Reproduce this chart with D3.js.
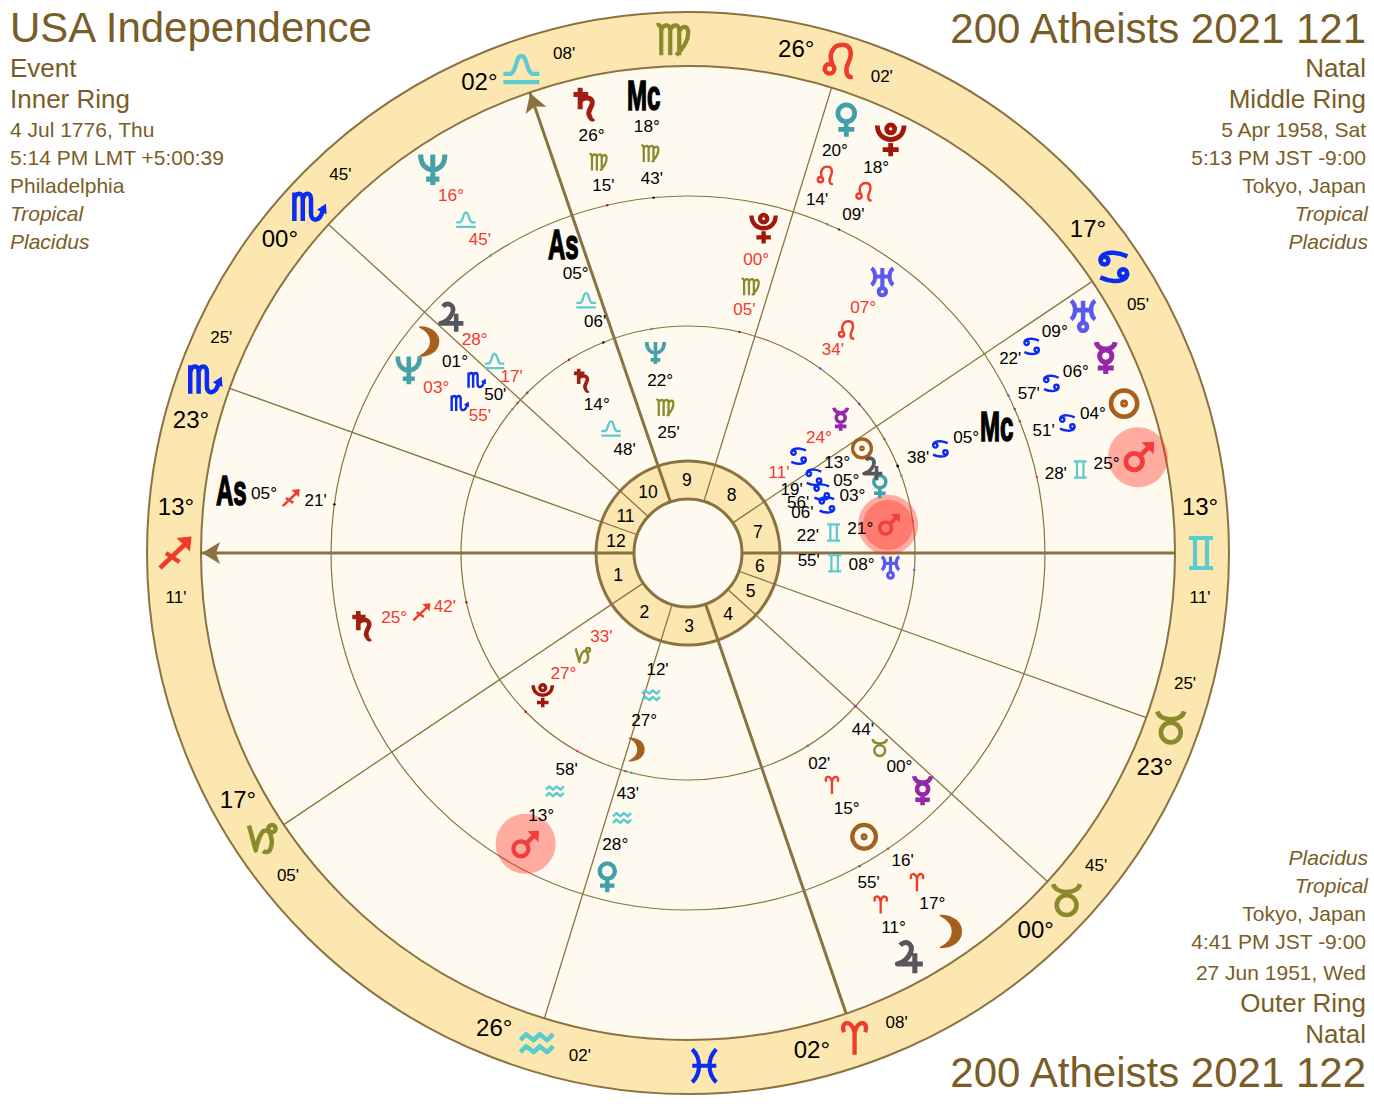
<!DOCTYPE html>
<html>
<head>
<meta charset="utf-8">
<title>USA Independence / 200 Atheists</title>
<script src="https://cdn.jsdelivr.net/npm/d3@7"></script>
<style>
  html, body { margin: 0; padding: 0; background: #fff; }
  svg { display: block; font-family: "Liberation Sans", Arial, sans-serif; }
</style>
</head>
<body>
<svg id="chart" width="1374" height="1108"></svg>
<script>
// zodiac, in order from 0 Aries
const signs = ["aries", "taurus", "gemini", "cancer", "leo", "virgo", "libra", "scorpio", "sagittarius", "capricorn", "aquarius", "pisces"];
const signColors = ["#f03a2a", "#8a8a2c", "#5ccbd0", "#0a2cf0", "#f03a2a", "#8a8a2c", "#5ccbd0", "#0a2cf0", "#f03a2a", "#8a8a2c", "#5ccbd0", "#0a2cf0"];

// house cusps 1..12 of the inner chart
const cuspSigns = [8, 9, 10, 0, 1, 1, 2, 3, 4, 6, 7, 7];
const cuspDegrees = [13, 17, 26, 2, 0, 23, 13, 17, 26, 2, 0, 23];
const cuspMinutes = [11, 5, 2, 8, 45, 25, 11, 5, 2, 8, 45, 25];
const interceptedSigns = [5, 11];

const bodies = ["sun", "moon", "mercury", "venus", "mars", "jupiter", "saturn", "uranus", "neptune", "pluto", "as", "mc"];
const bodyColors = ["#a5601f", "#a5601f", "#9527a8", "#3f9faa", "#f23d3d", "#56565c", "#a11f12", "#5a5af0", "#45a0a8", "#a0180c", "#000", "#000"];

// Inner ring: USA Independence
const innerSigns = [3, 10, 3, 3, 2, 3, 6, 2, 5, 9];
const innerDegrees = [13, 27, 24, 3, 21, 5, 14, 8, 22, 27];
const innerMinutes = [19, 12, 11, 6, 22, 56, 48, 55, 25, 33];
const innerRetro = [0, 0, 1, 0, 0, 0, 0, 0, 0, 1];
const innerLabelLon = [104.2, 328.6, 114.4, 92.3, 81.2, 97.7, 194.8, 69.2, 172.4, 297.5];

// Middle ring: 200 Atheists 2021 121
const middleSigns = [0, 7, 1, 10, 10, 6, 8, 4, 7, 5, 6, 3];
const middleDegrees = [15, 1, 0, 28, 13, 28, 25, 7, 3, 0, 5, 5];
const middleMinutes = [2, 50, 44, 43, 58, 17, 42, 34, 55, 5, 6, 38];
const middleRetro = [0, 0, 0, 0, 0, 1, 1, 1, 1, 1, 0, 0];
const middleLabelLon = [15, 213.9, 27.8, 329.2, 314, 208.3, 265.7, 127.6, 219.9, 150.1, 185.1, 95.6];

// Outer ring: 200 Atheists 2021 122
const outerSigns = [3, 0, 3, 4, 2, 0, 5, 3, 6, 4, 8, 5];
const outerDegrees = [4, 17, 6, 20, 25, 11, 26, 9, 16, 18, 5, 18];
const outerMinutes = [51, 16, 57, 14, 28, 55, 15, 22, 45, 9, 21, 43];
const outerRetro = [0, 0, 0, 0, 0, 0, 0, 0, 1, 0, 0, 0];
const outerLabelLon = [92.1, 18, 98.2, 143.1, 85.2, 11.9, 176.2, 104.2, 196.8, 137.1, 245.3, 168.7];

// header blocks
const topLeftLines = ["USA Independence", "Event", "Inner Ring", "4 Jul 1776, Thu", "5:14 PM LMT +5:00:39", "Philadelphia", "Tropical", "Placidus"];
const topRightLines = ["200 Atheists 2021 121", "Natal", "Middle Ring", "5 Apr 1958, Sat", "5:13 PM JST -9:00", "Tokyo, Japan", "Tropical", "Placidus"];
const bottomRightLines = ["Placidus", "Tropical", "Tokyo, Japan", "4:41 PM JST -9:00", "27 Jun 1951, Wed", "Outer Ring", "Natal", "200 Atheists 2021 122"];

// glyph outlines in a 24 box round 0,0
const ring = (x, y, r) => `M${x - r},${y}a${r},${r} 0 1,0 ${2 * r},0a${r},${r} 0 1,0 ${-2 * r},0`;
const glyphs = {
    sun: { d: ring(0, 0, 9.8) + ring(0, 0, 1.2), w: 3.5 },
    moon: { d: "M-8,-12C12.7,-12 12.7,12 -8,12C4,6 4,-6 -8,-12Z", w: 1.2, fill: true },
    mercury: { d: "M-7,-12C-6,-5 6,-5 7,-12" + ring(0, -1.5, 4.6) + "M0,3L0,12M-6,7.5L6,7.5", w: 3.8 },
    venus: { d: ring(0, -5, 6.3) + "M0,1.5L0,12.5M-6,7L6,7", w: 3.6 },
    mars: { d: ring(-3.5, 3.5, 6.2) + "M1,-1L8,-8", w: 3.6, head: "M2,-11L11.5,-11.5L11,-2Z" },
    jupiter: { d: "M-7,-9C-3,-13.5 3,-10 1,-4C-1,1 -5,4 -9,5L10,5M4,-3L4,12", w: 3.8 },
    saturn: { d: "M-3,-12L-3,4M-8,-7L3,-7M-3,-2C0,-6 7,-5 6,0C5,4 2,6 4,9C5,11 6,12 7,11", w: 3.8 },
    uranus: { d: "M-9,-11C-5,-8 -5,0 -9,3M9,-11C5,-8 5,0 9,3M-6,-4L6,-4M0,-11L0,5" + ring(0, 8.5, 3), w: 3.4 },
    neptune: { d: "M-9,-10C-9,4 9,4 9,-10M0,-11L0,12M-5,7.5L5,7.5M-9,-11L-9,-8M9,-11L9,-8", w: 3.8 },
    pluto: { d: "M-10,-10C-10,4 10,4 10,-10M0,3L0,13M-6,8L6,8" + ring(0, -7.5, 3), w: 3.6 },
    aries: { d: "M-7,-4C-10,-11 -2,-13 0,-4L0,11M0,-4C2,-13 10,-11 7,-4", w: 2.9 },
    taurus: { d: ring(0, 4, 6.6) + "M-9,-10C-7,-3 7,-3 9,-10", w: 3.1 },
    gemini: { d: "M-8,-10L8,-10M-8,10L8,10M-4,-10L-4,10M4,-10L4,10", w: 2.8 },
    cancer: { d: ring(-6.2, -4.2, 2.6) + "M-9,-4.2C-9,-9 -3,-9.6 0,-9.4C3,-9.2 6,-8.4 9,-7" + ring(6.2, 4.2, 2.6) + "M9,4.2C9,9 3,9.6 0,9.4C-3,9.2 -6,8.4 -9,7", w: 3 },
    leo: { d: ring(-6.5, 4, 3.2) + "M-4.5,1C-8,-7 -3,-12 2,-12C8,-12 9,-6 6,0C4,4 4,10 9,9.5", w: 3 },
    virgo: { d: "M-10,-10C-8,-11 -7,-9 -7,-6L-7,10M-7,-7C-5,-11 -1,-11 -1,-6L-1,10M-1,-7C1,-11 5,-11 5,-6L5,10M5,-6C8,-11 11,-9 11,-5C11,0 7,6 3,10", w: 2.8 },
    libra: { d: "M-12,4L-7,4C-3,2 -4,-8 0,-8C4,-8 3,2 7,4L12,4M-12,9.5L12,9.5", w: 2.8 },
    scorpio: { d: "M-10,-9.5L-10,9.5M-10,-5C-9,-10 -4.4,-10 -4.4,-5L-4.4,9.5M-4.4,-5C-3.4,-10 1.1,-10 1.1,-5L1.1,4.5C1.1,10 7,10.5 9,2", w: 3, head: "M5,2L11,-2L11.5,5Z" },
    sagittarius: { d: "M-10,10L9,-8M-6,0L3,6", w: 3, head: "M1,-10L11,-11L10,-1Z" },
    capricorn: { d: "M-8.8,-9L-4.3,7.5C-3.5,2 -1,-4 1,-5.5C2.5,-6 3.5,-6 4.5,-5C6.5,-2 7,3 5.5,6.5C4.5,9 2,9 0.5,8" + ring(6.5, -7, 2.4), w: 3 },
    aquarius: { d: "M-11,-2L-7,-6L-2,-2L2,-6L7,-2L11,-6M-11,6L-7,2L-2,6L2,2L7,6L11,2", w: 3 },
    pisces: { d: "M-8,-11C-2,-5 -2,5 -8,11M8,-11C2,-5 2,5 8,11M-8,0L8,0", w: 2.8 }
};

const cx = 688, cy = 553;
const rHole = 54, rHouse = 92, rInner = 227, rMiddle = 357, rZodiac = 487, rOuter = 541;
const lineColor = "#8a7340", ringFill = "#fde7b0", paperFill = "#fffaef", headColor = "#7a5d26", redText = "#f5372d";

const lonOf = (sign, deg, min) => sign * 30 + deg + min / 60;
const cusps = cuspSigns.map((s, i) => lonOf(s, cuspDegrees[i], cuspMinutes[i]));
const asc = cusps[0];

// longitude runs counter clockwise with the ascendant on the left
const phi = d3.scaleLinear().domain([asc, asc + 360]).range([180, 540]);
const angleOf = lon => phi(lon < asc ? lon + 360 : lon) * Math.PI / 180;
const polar = (lon, r) => {
    const a = angleOf(lon);
    return [cx + r * Math.cos(a), cy - r * Math.sin(a)];
};

const svg = d3.select("#chart");

function putGlyph(parent, name, lon, r, size, color) {
    const g = glyphs[name], [x, y] = polar(lon, r);
    const k = size / 24;
    const node = parent.append("g").attr("transform", `translate(${x},${y}) scale(${k})`);
    node.append("path")
        .attr("d", g.d)
        .attr("fill", g.fill ? color : "none")
        .attr("stroke", color)
        .attr("stroke-width", g.w)
        .attr("stroke-linejoin", "round");
    if (g.head) node.append("path").attr("d", g.head).attr("fill", color);
}

function putText(parent, txt, lon, r, size, color, dy) {
    const [x, y] = polar(lon, r);
    parent.append("text")
        .attr("x", x).attr("y", y).attr("dy", dy || "0.28em")
        .attr("text-anchor", "middle")
        .attr("font-size", size)
        .attr("fill", color)
        .text(txt);
}

// heavy squeezed As / Mc labels
function putAngleLabel(parent, txt, lon, r) {
    const [x, y] = polar(lon, r);
    parent.append("text")
        .attr("transform", `translate(${x},${y}) scale(0.56,1)`)
        .attr("dy", "0.36em")
        .attr("text-anchor", "middle")
        .attr("font-size", 43)
        .attr("font-weight", "bold")
        .attr("fill", "#000").attr("stroke", "#000").attr("stroke-width", 1.5)
        .text(txt);
}

// discs and rings
const discs = [
    { r: rOuter, fill: ringFill, w: 2 },
    { r: rZodiac, fill: paperFill, w: 2 },
    { r: rMiddle, fill: "none", w: 1.2 },
    { r: rInner, fill: "none", w: 1.2 },
    { r: rHouse, fill: ringFill, w: 3 },
    { r: rHole, fill: paperFill, w: 3 }
];
svg.append("g").selectAll("circle").data(discs).enter().append("circle")
    .attr("cx", cx).attr("cy", cy)
    .attr("r", d => d.r)
    .attr("fill", d => d.fill)
    .attr("stroke", lineColor)
    .attr("stroke-width", d => d.w);

// cusps, the four angles are heavier
const cuspLayer = svg.append("g");
cusps.forEach((lon, i) => {
    const [x1, y1] = polar(lon, rHole), [x2, y2] = polar(lon, rZodiac);
    cuspLayer.append("line")
        .attr("x1", x1).attr("y1", y1).attr("x2", x2).attr("y2", y2)
        .attr("stroke", lineColor)
        .attr("stroke-width", i % 3 === 0 ? 3 : 1.3);
});
[0, 9].forEach(i => {
    const [x, y] = polar(cusps[i], rZodiac - 1);
    const deg = -angleOf(cusps[i]) * 180 / Math.PI;
    cuspLayer.append("path")
        .attr("d", "M0,0L-18,-11L-14,0L-18,11Z")
        .attr("transform", `translate(${x},${y}) rotate(${deg})`)
        .attr("fill", lineColor);
});

// house numbers
const numbers = svg.append("g");
cusps.forEach((lon, i) => {
    let next = cusps[(i + 1) % 12];
    if (next < lon) next += 360;
    putText(numbers, String(i + 1), (lon + next) / 2 % 360, 73, 17.5, "#000", "0.36em");
});

// zodiac band: sign with degrees on the upper side and minutes on the lower side
const pad = n => String(n).padStart(2, "0");
const zodiac = svg.append("g");
cusps.forEach((lon, i) => {
    const upper = Math.sin(angleOf(lon)) > -1e-6 && Math.abs(lon - asc) > 1e-6;
    const off = upper ? 5 : -5;
    putGlyph(zodiac, signs[cuspSigns[i]], lon, 513, 36, signColors[cuspSigns[i]]);
    putText(zodiac, pad(cuspDegrees[i]) + "°", lon + off, 514, 24, "#000", "0.27em");
    putText(zodiac, pad(cuspMinutes[i]) + "'", lon - off, 514, 17, "#000", "0.3em");
});
interceptedSigns.forEach(s => putGlyph(zodiac, signs[s], s * 30 + 15, 513, 36, signColors[s]));

// planets, one column per body running in along the radius
function drawRing(cfg) {
    const layer = svg.append("g");
    const marks = svg.append("g");
    cfg.signs.forEach((s, i) => {
        const lon = lonOf(s, cfg.degrees[i], cfg.minutes[i]);
        const shown = cfg.labelLon[i];
        const name = bodies[i];
        const textColor = cfg.retro[i] ? redText : "#000";
        if (name === "mars") {
            const [x, y] = polar(shown, cfg.radii[0] - 1);
            cfg.halos.forEach(h => layer.append("circle")
                .attr("cx", x).attr("cy", y).attr("r", h)
                .attr("fill", "#ff2a20").attr("fill-opacity", 0.38));
        }
        if (name === "as" || name === "mc") {
            putAngleLabel(marks, name === "as" ? "As" : "Mc", shown, cfg.radii[0]);
        } else {
            putGlyph(marks, name, shown, cfg.radii[0], cfg.glyphSize, bodyColors[i]);
        }
        putText(marks, pad(cfg.degrees[i]) + "°", shown, cfg.radii[1], 17.2, textColor);
        putGlyph(marks, signs[s], shown, cfg.radii[2], 19.5, signColors[s]);
        putText(marks, pad(cfg.minutes[i]) + "'", shown, cfg.radii[3], 17, textColor);
        const [tx, ty] = polar(lon, cfg.tickR);
        marks.append("circle").attr("cx", tx).attr("cy", ty).attr("r", 1.2).attr("fill", bodyColors[i]);
    });
}

drawRing({ signs: innerSigns, degrees: innerDegrees, minutes: innerMinutes, retro: innerRetro, labelLon: innerLabelLon, radii: [203, 174, 147, 121], tickR: rInner, halos: [30, 25], glyphSize: 23 });
drawRing({ signs: middleSigns, degrees: middleDegrees, minutes: middleMinutes, retro: middleRetro, labelLon: middleLabelLon, radii: [334, 301, 273, 249], tickR: rInner, halos: [30], glyphSize: 29 });
drawRing({ signs: outerSigns, degrees: outerDegrees, minutes: outerMinutes, retro: outerRetro, labelLon: outerLabelLon, radii: [461, 428, 401, 376], tickR: rMiddle, halos: [30], glyphSize: 32 });

// header blocks
function drawBlock(lines, x, anchor, baselines, sizes) {
    svg.append("g").selectAll("text").data(lines).enter().append("text")
        .attr("x", x)
        .attr("y", (d, i) => baselines[i])
        .attr("text-anchor", anchor)
        .attr("font-size", (d, i) => sizes[i])
        .attr("font-style", d => (d === "Tropical" || d === "Placidus") ? "italic" : "normal")
        .attr("fill", headColor)
        .attr("dx", d => (anchor === "end" && (d === "Tropical" || d === "Placidus")) ? 2 : 0)
        .text(d => d);
}
const topSizes = [42, 26, 26, 21, 21, 21, 21, 21];
drawBlock(topLeftLines, 10, "start", [42, 77, 108, 137, 165, 193, 221, 249], topSizes);
drawBlock(topRightLines, 1366, "end", [43, 77, 108, 137, 165, 193, 221, 249], topSizes);
drawBlock(bottomRightLines, 1366, "end", [865, 893, 921, 949, 980, 1012, 1043, 1087], topSizes.slice().reverse());
</script>
</body>
</html>
